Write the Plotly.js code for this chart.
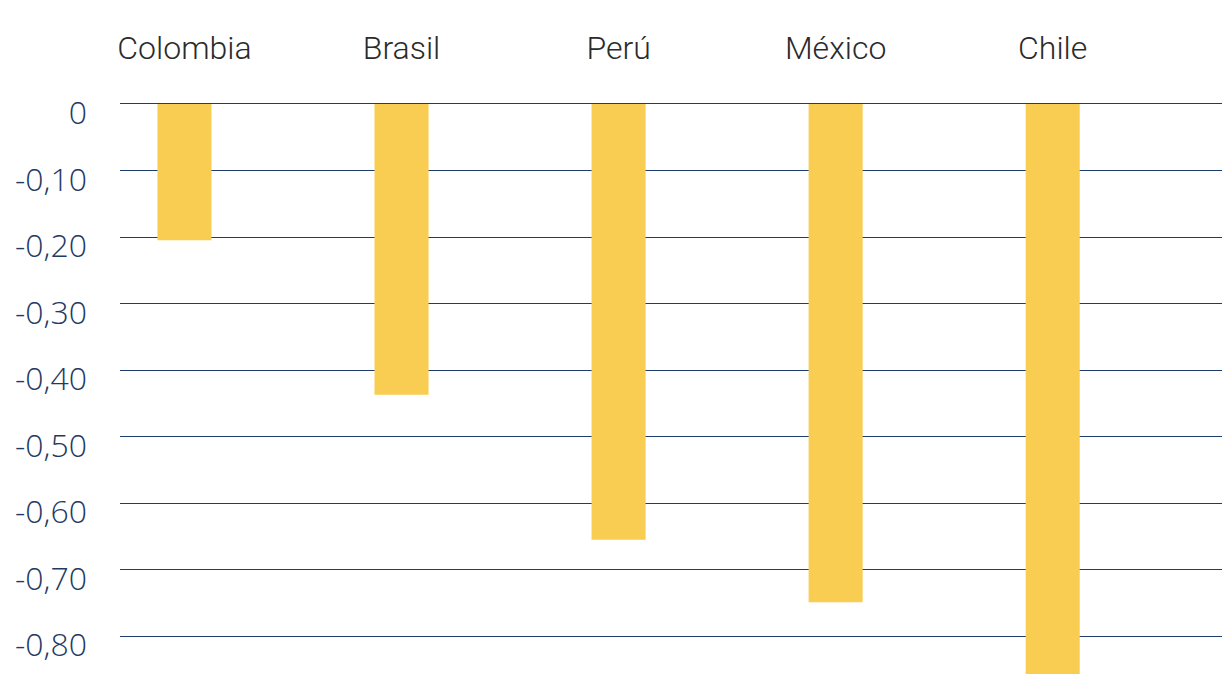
<!DOCTYPE html>
<html>
<head>
<meta charset="utf-8">
<script src="https://cdn.plot.ly/plotly-3.0.1.min.js"></script>
<style>
html,body{margin:0;padding:0;overflow:hidden;background:#fff;}
#chart{width:1226px;height:712px;}
</style>
</head>
<body>
<div id="chart"></div>
<script>
var categories = ['Colombia', 'Brasil', 'Perú', 'México', 'Chile'];
var values = [-0.205, -0.437, -0.655, -0.749, -0.857];
var tickValues = [0, -0.1, -0.2, -0.3, -0.4, -0.5, -0.6, -0.7, -0.8, -0.9];
var tickLabels = ['0', '-0,10', '-0,20', '-0,30', '-0,40', '-0,50', '-0,60', '-0,70', '-0,80', '-0,90'];

var trace = {
  type: 'bar',
  x: categories,
  y: values,
  marker: {color: '#F8CD52', line: {width: 0}},
  hoverinfo: 'x+y'
};

var layout = {
  width: 1226,
  height: 712,
  margin: {l: 120, r: 4, t: 100, b: 0, pad: 0},
  paper_bgcolor: '#ffffff',
  plot_bgcolor: '#ffffff',
  showlegend: false,
  bargap: 0.751,
  xaxis: {
    type: 'category',
    side: 'top',
    range: [-0.297, 4.78],
    showgrid: false,
    zeroline: false,
    showline: false,
    ticks: '',
    ticklabelstandoff: 34,
    tickfont: {family: 'Roboto, "Liberation Sans", sans-serif', size: 32, color: '#2b2b2b', weight: 300},
    fixedrange: true
  },
  yaxis: {
    range: [-0.914, 0.006],
    tickmode: 'array',
    tickvals: tickValues,
    ticktext: tickLabels,
    showgrid: true,
    gridcolor: '#1f3d6b',
    gridwidth: 1,
    zeroline: false,
    showline: false,
    ticks: '',
    ticklabelstandoff: 32,
    ticklabelshift: 9,
    tickfont: {family: '"Open Sans", "Noto Sans", sans-serif', size: 32, color: '#1f3a63', weight: 300},
    fixedrange: true
  }
};

Plotly.newPlot('chart', [trace], layout, {displayModeBar: false, staticPlot: true});
</script>
</body>
</html>
